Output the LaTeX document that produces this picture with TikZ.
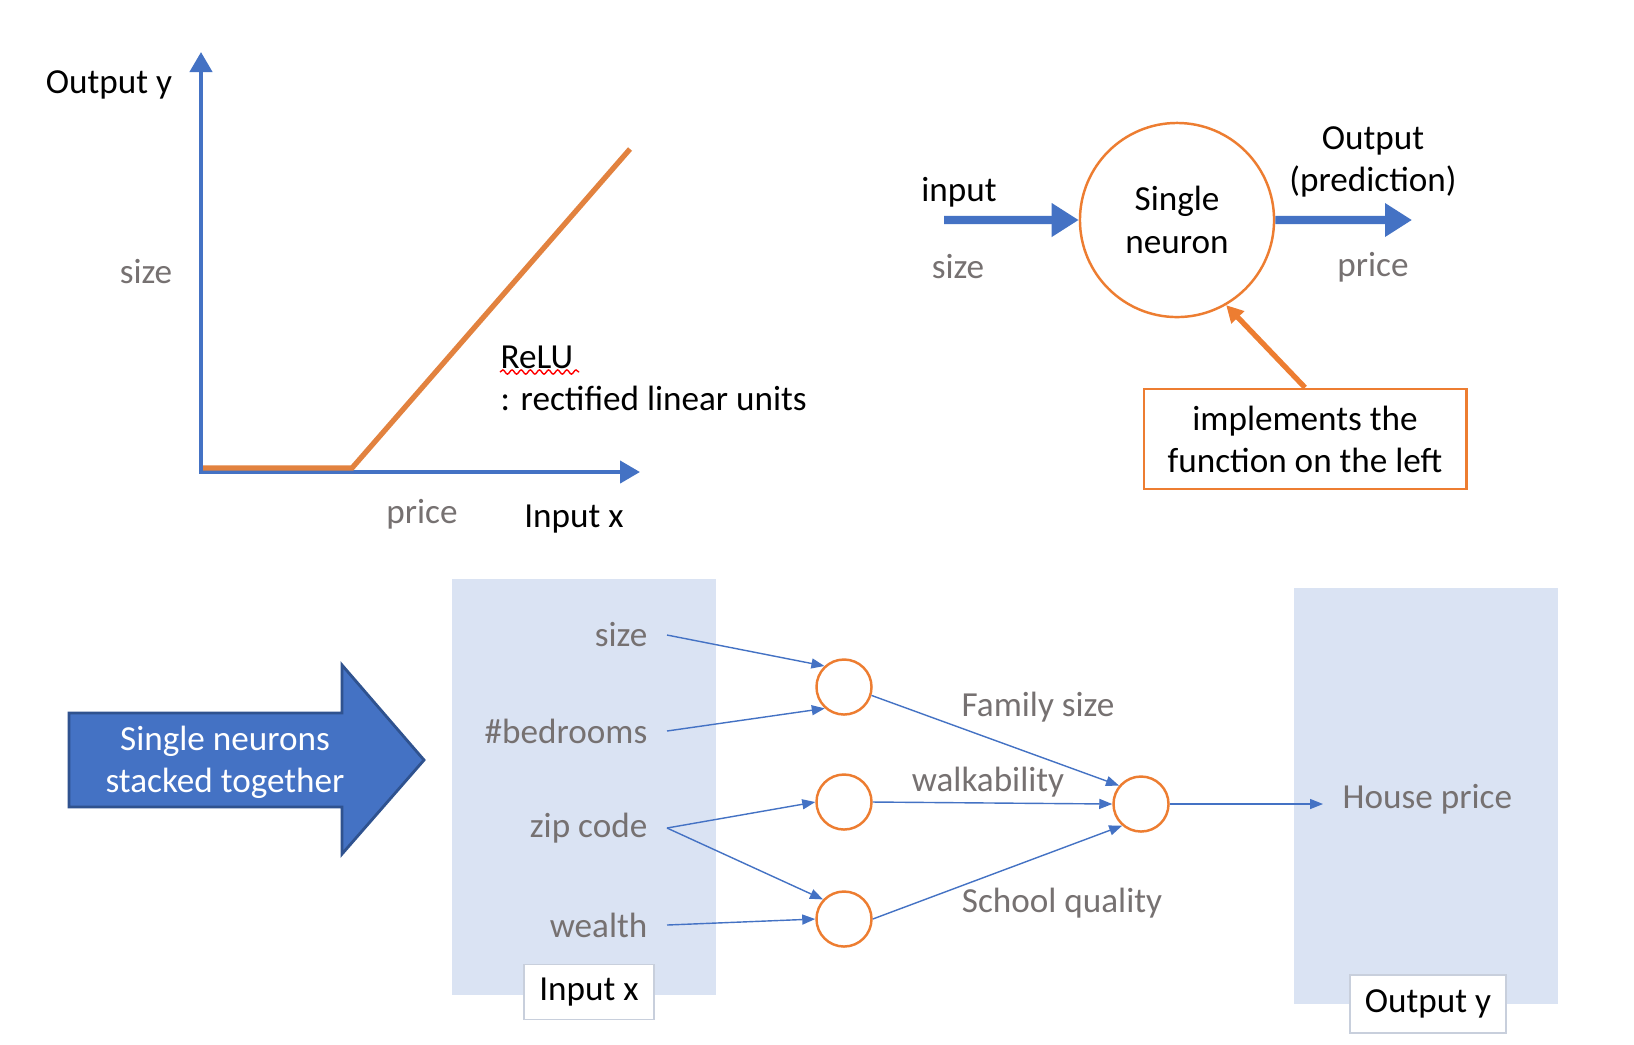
\documentclass[tikz,border=0pt]{standalone}
\usepackage{fontspec}
\setmainfont{Carlito}
\usepackage{tikz}
\usepackage{xcolor}
\usetikzlibrary{arrows.meta, positioning, decorations.pathmorphing}
\definecolor{ppblue}{HTML}{4472C4}
\definecolor{ppdark}{HTML}{2F528F}
\definecolor{pporange}{HTML}{ED7D31}
\definecolor{relu}{HTML}{E2823F}
\definecolor{ppgray}{HTML}{767171}
\definecolor{ppfill}{HTML}{DAE3F3}
\tikzstyle{lbl} = [font=\fontsize{10}{12}\selectfont, 
align=center, 
inner sep=0pt, 
yshift=-0.02cm]
\tikzstyle{dim} = [lbl, text=ppgray]
\tikzstyle{feat} = [dim, anchor=east, inner xsep=0.19cm]
\tikzstyle{axis} = [ppblue, line width=1.2pt, -{Triangle[length=0.2cm,width=0.22cm]}]
\tikzstyle{fat} = [ppblue, line width=2.3pt, -{Triangle[length=0.27cm,width=0.32cm]}]
\tikzstyle{link} = [ppblue, line width=0.4pt, -{Triangle[length=0.13cm,width=0.1cm]}]
\tikzstyle{unit} = [circle, draw=pporange, line width=0.7pt, 
minimum size=0.55cm, inner sep=0pt]
\tikzstyle{panel} = [fill=ppfill, inner sep=0pt, 
minimum width=2.64cm, minimum height=4.15cm]
\tikzstyle{tag} = [lbl, fill=white, draw=ppfill!80!gray, line width=0.4pt]

\begin{document}
\begin{tikzpicture}[x=0.01cm, y=-0.01cm]
        \fill[white] (0,0) rectangle (1634,1044);

        % --- ReLU plot ---
        \coordinate (origin) at (199,472);
        \coordinate (ytip) at (201,52);
        \coordinate (xtip) at (640,472);
        \coordinate (relu0) at (203,468);
        \coordinate (kink) at (352,468);
        \coordinate (relu1) at (630,149);
        \draw[axis] (origin) -| (ytip);
        \draw[axis] (origin) -- (xtip);
        \draw[relu, line width=1.5pt] (relu0) -- (kink) -- (relu1);

        \node[lbl] (ylabel) at (109,83) {Output y};
        \node[dim] (ysize) at (146,270) {size};
        \node[dim] (xprice) at (422,512) {price};
        \node[lbl] (xlabel) at (574,517) {Input x};
        \node[lbl, anchor=west, align=left] (relutxt) at (500,376) {ReLU\\: rectified linear units};
        \draw[red, line width=0.4pt, decorate, decoration={snake, amplitude=0.6pt, segment length=2.6pt}]
            (relutxt.west |- 0,372) -- (579,372);

        % --- single neuron ---
        \node[lbl, circle, draw=pporange, line width=0.7pt, minimum size=1.94cm] (neuron) at (1177,218) {Single\\neuron};
        \coordinate (instart) at (944,220);
        \coordinate (outend) at (1412,220);
        \draw[fat] (instart) -- (neuron);
        \draw[fat] (neuron) -- (outend);
        \node[lbl] (intxt) at (959,190) {input};
        \node[dim] (insize) at (958,265) {size};
        \node[lbl] (outtxt) at (1373,160) {Output\\(prediction)};
        \node[dim] (outprice) at (1373,265) {price};
        \node[lbl, draw=pporange, line width=0.8pt, minimum width=3.22cm, minimum height=1cm] (note) at (1305,437) {implements the\\function on the left};
        \draw[pporange, line width=1.5pt, -{Triangle[length=0.17cm,width=0.17cm]}] (note.north) -- (neuron.-60);

        % --- stacked neurons ---
        \fill[ppblue, draw=ppdark, line width=0.8pt] (69,713) -- (342,713) -- (342,665) -- (424,760)
            -- (342,854) -- (342,807) -- (69,807) -- cycle;
        \node[lbl, text=white] (stack) at (225,760) {Single neurons\\stacked together};

        \node[panel] (inbox) at (584,787) {};
        \node[panel] (outbox) at (1426,796) {};
        \node[tag, minimum width=1.3cm, minimum height=0.55cm] (intag) at (589,990) {Input x};
        \node[tag, minimum width=1.56cm, minimum height=0.58cm] (outtag) at (1428,1002) {Output y};

        \node[feat] (fsize) at (667,633) {size};
        \node[feat] (fbed) at (667,729) {\#bedrooms};
        \node[feat] (fzip) at (667,826) {zip code};
        \node[feat] (fwealth) at (667,923) {wealth};

        \node[unit] (h1) at (844,687) {};
        \node[unit] (h2) at (844,802) {};
        \node[unit] (h3) at (844,919) {};
        \node[unit] (out) at (1141,804) {};
        \node[dim, anchor=west, inner xsep=0.19cm] (house) at (1323,797) {House price};

        \draw[link] (fsize.east) -- (h1.133);
        \draw[link] (fbed.east) -- (h1.228);
        \draw[link] (fzip.east) -- (h2.west);
        \draw[link] (fzip.east) -- (h3.137);
        \draw[link] (fwealth.east) -- (h3.west);
        \draw[link] (h1.-17) -- (out.140);
        \draw[link] (h2.east) -- (out.west);
        \draw[link] (h3.east) -- (out.229);
        \draw[link] (out.east) -- (out.east -| house.west);

        \node[dim] (family) at (1038,705) {Family size};
        \node[dim] (walk) at (988,780) {walkability};
        \node[dim] (school) at (1062,901) {School quality};
\end{tikzpicture}
\end{document}
